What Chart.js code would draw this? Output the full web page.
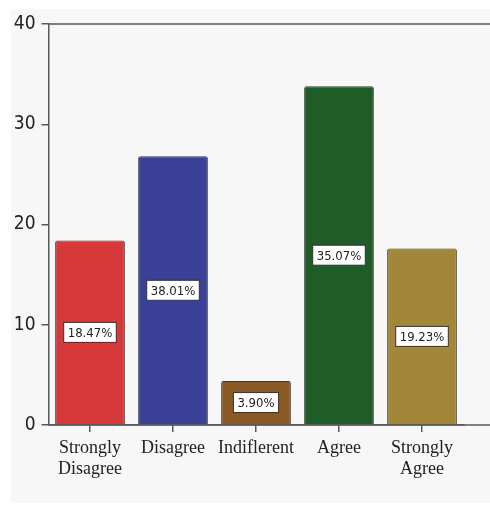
<!DOCTYPE html>
<html>
<head>
<meta charset="utf-8">
<script src="https://cdn.jsdelivr.net/npm/chart.js@4/dist/chart.umd.min.js"></script>
<style>
  html, body { margin: 0; padding: 0; background: #ffffff; }
  #wrap { width: 490px; height: 506px; }
</style>
</head>
<body>
<div id="wrap"><canvas id="barchart" width="490" height="506"></canvas></div>
<script>
const categories = [['Strongly', 'Disagree'], 'Disagree', 'Indiflerent', 'Agree', ['Strongly', 'Agree']];
const counts = [18.4, 26.8, 4.4, 33.8, 17.6];
const percentLabels = ['18.47%', '38.01%', '3.90%', '35.07%', '19.23%'];
const barColors = ['#d5393a', '#3a3f97', '#8a5a24', '#1e5d28', '#a2873b'];
const yTicks = [0, 10, 20, 30, 40];

const lineColor = '#5a5a5a';
const narrow = '"DejaVu Sans Condensed", "Liberation Sans Narrow", "Liberation Sans", sans-serif';

// light panel behind everything
const panel = {
  id: 'panel',
  beforeDraw(chart) {
    const c = chart.ctx;
    c.save();
    c.fillStyle = '#f7f7f7';
    c.fillRect(11, 9, chart.width - 11, chart.height - 12);
    c.restore();
  }
};

// top border and extended baseline, like the original frame
const frame = {
  id: 'frame',
  afterDraw(chart) {
    const c = chart.ctx, a = chart.chartArea;
    c.save();
    c.strokeStyle = lineColor;
    c.lineWidth = 1.5;
    c.beginPath();
    c.moveTo(a.left, a.top); c.lineTo(chart.width, a.top);
    c.moveTo(a.left, a.bottom); c.lineTo(chart.width, a.bottom);
    c.stroke();
    c.restore();
  }
};

// boxed percentage labels in the middle of each bar
const boxLabels = {
  id: 'boxLabels',
  afterDatasetsDraw(chart) {
    const c = chart.ctx;
    const meta = chart.getDatasetMeta(0);
    c.save();
    c.font = '13px ' + narrow;
    c.textAlign = 'center';
    c.textBaseline = 'middle';
    meta.data.forEach((bar, i) => {
      const txt = percentLabels[i];
      const y = (bar.y + bar.base) / 2;
      const w = c.measureText(txt).width + 8;
      const h = 20;
      c.fillStyle = '#ffffff';
      c.fillRect(bar.x - w / 2, y - h / 2, w, h);
      c.strokeStyle = '#333333';
      c.lineWidth = 1;
      c.strokeRect(bar.x - w / 2, y - h / 2, w, h);
      c.fillStyle = '#222222';
      c.fillText(txt, bar.x, y + 1);
    });
    c.restore();
  }
};

const ctx = document.getElementById('barchart').getContext('2d');
const barchart = new Chart(ctx, {
  type: 'bar',
  data: {
    labels: categories,
    datasets: [{
      data: counts,
      backgroundColor: barColors,
      borderColor: '#3a3a3a',
      borderWidth: 1,
      borderRadius: 2,
      categoryPercentage: 1,
      barPercentage: 0.84
    }]
  },
  options: {
    responsive: false,
    animation: false,
    layout: { padding: { top: 24, right: 26.5, left: 0, bottom: 0 } },
    plugins: {
      legend: { display: false },
      tooltip: { enabled: false }
    },
    scales: {
      x: {
        grid: {
          offset: false,
          drawOnChartArea: false,
          drawTicks: true,
          tickLength: 7,
          color: lineColor,
          lineWidth: 1.5
        },
        border: { display: true, color: lineColor, width: 1.5 },
        ticks: {
          color: '#222222',
          padding: 5,
          maxRotation: 0,
          autoSkip: false,
          font: { family: '"Liberation Serif", "DejaVu Serif", serif', size: 18 }
        },
        afterFit(scale) { scale.height = 81; }
      },
      y: {
        min: 0,
        max: 40,
        afterBuildTicks(scale) { scale.ticks = yTicks.map(v => ({ value: v })); },
        grid: {
          drawOnChartArea: false,
          drawTicks: true,
          tickLength: 7,
          color: lineColor,
          lineWidth: 1.5
        },
        border: { display: true, color: lineColor, width: 1.5 },
        ticks: {
          color: '#222222',
          padding: 6,
          font: { family: narrow, size: 19 }
        },
        afterFit(scale) { scale.width = 48.5; }
      }
    }
  },
  plugins: [panel, frame, boxLabels]
});
</script>
</body>
</html>
